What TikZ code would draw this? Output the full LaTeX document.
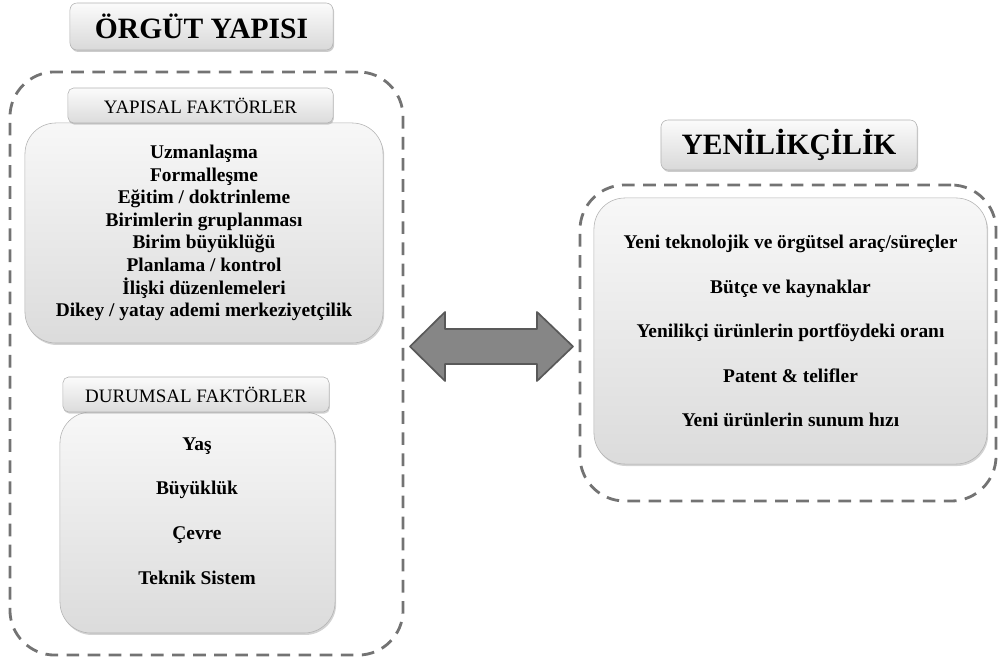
\documentclass[tikz,border=0pt]{standalone}
\usepackage{fontspec}
\setmainfont{Liberation Serif}
\usetikzlibrary{shadows}
\begin{document}
\begin{tikzpicture}
    [%%%%%%%%%%%%%%%%%%%%%%%%%%%%%%
        x=0.025cm, y=-0.025cm,
        titlebox/.style={rectangle, rounded corners=5pt, draw=gray!60, top color=gray!3, bottom color=gray!30,
            drop shadow={shadow xshift=0.8pt, shadow yshift=-1.4pt, opacity=0.4}, font=\bfseries\fontsize{21}{24}\selectfont},
        headbox/.style={rectangle, rounded corners=4pt, draw=gray!60, top color=gray!3, bottom color=gray!28,
            drop shadow={shadow xshift=0.6pt, shadow yshift=-1.2pt, opacity=0.35}, font=\fontsize{13.5}{16}\selectfont},
        bodybox/.style={rectangle, rounded corners=22pt, draw=gray!60, top color=gray!6, bottom color=gray!28,
            drop shadow={shadow xshift=0.8pt, shadow yshift=-1.4pt, opacity=0.35}, align=center},
        dashframe/.style={rectangle, rounded corners=32pt, draw=black!55, line width=2pt, dash pattern=on 9pt off 6pt},
        itemtext/.style={align=center, font=\bfseries\fontsize{13.8}{16.1}\selectfont},
        widetext/.style={align=center, font=\bfseries\fontsize{13.8}{31.7}\selectfont},
        bigarrow/.style={draw=black!65, fill=gray!95, line width=1.2pt, line join=round},
    ]%%%%%%%%%%%%%%%%%%%%%%%%%%%%%%
\useasboundingbox (0,0) rectangle (999,661);

% left side
\node[titlebox, minimum width=6.575cm, minimum height=1.175cm] (orgut) at (201.5,26.5) {ÖRGÜT YAPISI};
\node[dashframe, minimum width=9.825cm, minimum height=14.575cm] (orgutframe) at (206.5,363.5) {};

\node[bodybox, minimum width=8.95cm, minimum height=5.5cm, itemtext] (yapisal) at (204,233)
    {Uzmanlaşma\\Formalleşme\\Eğitim / doktrinleme\\Birimlerin gruplanması\\Birim büyüklüğü\\Planlama / kontrol\\İlişki düzenlemeleri\\Dikey / yatay ademi merkeziyetçilik};
\node[headbox, minimum width=6.625cm, minimum height=0.875cm] (yapisalhead) at (200.5,105.5) {YAPISAL FAKTÖRLER};

\node[bodybox, minimum width=6.875cm, minimum height=5.525cm] (durumsal) at (197.5,522.5) {};
\node[widetext] (durumsaltext) at (197,511) {Yaş\\Büyüklük\\Çevre\\Teknik Sistem};
\node[headbox, minimum width=6.65cm, minimum height=0.875cm] (durumsalhead) at (196,394.5) {DURUMSAL FAKTÖRLER};

% arrow
\draw[bigarrow] (410,346.5) -- (445,312) -- (445,329) -- (537,329) -- (537,312) -- (573,346.5)
    -- (537,381) -- (537,364) -- (445,364) -- (445,381) -- cycle;

% right side
\node[titlebox, minimum width=6.4cm, minimum height=1.25cm] (yenilik) at (789,145) {YENİLİKÇİLİK};
\node[dashframe, minimum width=10.4cm, minimum height=7.9cm] (yenilikframe) at (788,343) {};
\node[bodybox, minimum width=9.825cm, minimum height=6.65cm, widetext] (olcut) at (790.5,331)
    {Yeni teknolojik ve örgütsel araç/süreçler\\Bütçe ve kaynaklar\\Yenilikçi ürünlerin portföydeki oranı\\Patent \& telifler\\Yeni ürünlerin sunum hızı};
\end{tikzpicture}
\end{document}
